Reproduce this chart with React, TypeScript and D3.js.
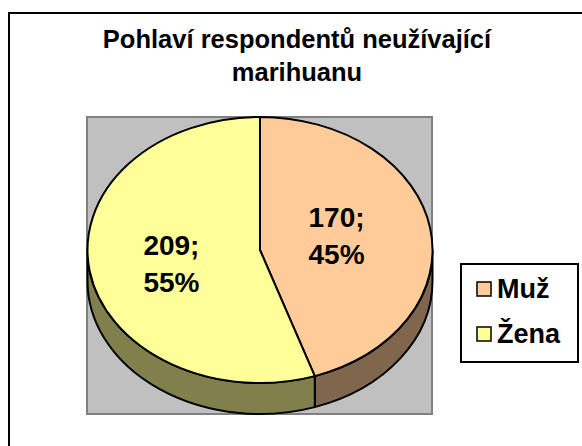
import React from "react";
import * as d3 from "d3";

const categories = ["Muž", "Žena"];
const values = [170, 209];
const percents = ["45%", "55%"];
const topColors = ["#FFCC99", "#FFFF99"];
const sideColors = ["#80664D", "#80804D"];
const titleLines = ["Pohlaví respondentů neužívající", "marihuanu"];

const W = 582;
const H = 446;
const FONT = "'Liberation Sans', Arial, sans-serif";

export default function App() {
  const plot = { x: 87, y: 117, w: 345, h: 297 };
  const cx = plot.x + plot.w / 2 + 0.5;
  const rx = plot.w / 2;
  const depth = 31;
  const ry = (plot.h - depth) / 2;
  const cy = plot.y + ry;

  const pie = d3.pie<number>().sort(null).startAngle(0).endAngle(2 * Math.PI);
  const arcs = pie(values);

  const pt = (a: number, dy = 0): [number, number] => [
    cx + rx * Math.sin(a),
    cy - ry * Math.cos(a) + dy,
  ];

  const topPath = (a0: number, a1: number) => {
    const [x0, y0] = pt(a0);
    const [x1, y1] = pt(a1);
    const large = a1 - a0 > Math.PI ? 1 : 0;
    return `M${cx},${cy}L${x0},${y0}A${rx},${ry} 0 ${large} 1 ${x1},${y1}Z`;
  };

  const sidePath = (a0: number, a1: number) => {
    const s = Math.max(a0, Math.PI / 2);
    const e = Math.min(a1, (3 * Math.PI) / 2);
    if (e <= s) return null;
    const [x0, y0] = pt(s);
    const [x1, y1] = pt(e);
    return `M${x0},${y0}A${rx},${ry} 0 0 1 ${x1},${y1}L${x1},${y1 + depth}A${rx},${ry} 0 0 0 ${x0},${y0 + depth}Z`;
  };

  const labelKx = 0.485;
  const labelKy = 0.65;
  const labelSize = 28;

  return (
    <svg width={W} height={H} style={{ position: "absolute", left: 0, top: 0, background: "#fff" }}>
      <rect x={9} y={13} width={W + 20} height={H + 20} fill="#fff" stroke="#000" strokeWidth={2} />
      {titleLines.map((t, i) => (
        <text
          key={i}
          x={297}
          y={48 + i * 33}
          textAnchor="middle"
          fontFamily={FONT}
          fontWeight="bold"
          fontSize={25.5}
          fill="#000"
        >
          {t}
        </text>
      ))}
      <rect x={plot.x} y={plot.y} width={plot.w} height={plot.h} fill="#C0C0C0" stroke="#808080" strokeWidth={2} />
      {arcs.map((a, i) => {
        const d = sidePath(a.startAngle, a.endAngle);
        return d ? (
          <path key={"s" + i} d={d} fill={sideColors[i]} stroke="#000" strokeWidth={2} strokeLinejoin="round" />
        ) : null;
      })}
      {arcs.map((a, i) => (
        <path key={"t" + i} d={topPath(a.startAngle, a.endAngle)} fill={topColors[i]} stroke="#000" strokeWidth={2} strokeLinejoin="round" />
      ))}
      {arcs.map((a, i) => {
        const mid = (a.startAngle + a.endAngle) / 2;
        const lx = cx + labelKx * rx * Math.sin(mid) - 6;
        const ly = cy - labelKy * ry * Math.cos(mid);
        return (
          <text key={"l" + i} textAnchor="middle" fontFamily={FONT} fontWeight="bold" fontSize={labelSize} fill="#000">
            <tspan x={lx} y={ly - 9}>{`${values[i]};`}</tspan>
            <tspan x={lx} y={ly + 28}>{percents[i]}</tspan>
          </text>
        );
      })}
      <rect x={461} y={264} width={117} height={98} fill="#fff" stroke="#000" strokeWidth={2} />
      {categories.map((c, i) => (
        <g key={c}>
          <rect x={477} y={282 + i * 45} width={14} height={14} fill={topColors[i]} stroke="#000" strokeWidth={1.5} />
          <text x={497} y={298 + i * 45} fontFamily={FONT} fontWeight="bold" fontSize={27} fill="#000">
            {c}
          </text>
        </g>
      ))}
    </svg>
  );
}
